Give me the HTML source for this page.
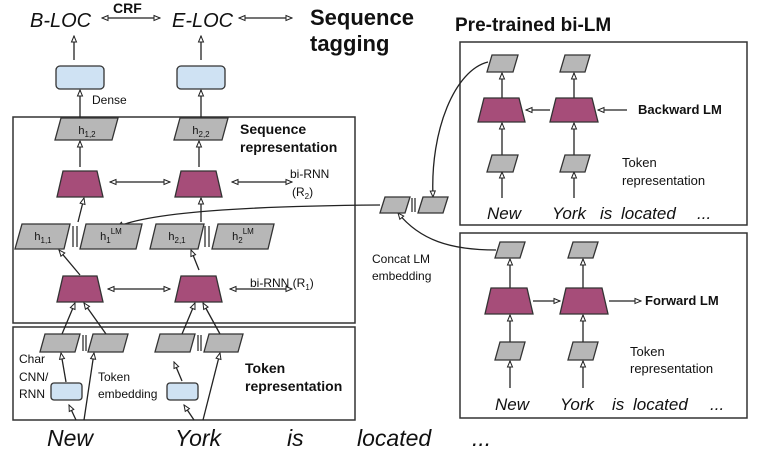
<!DOCTYPE html>
<html><head><meta charset="utf-8"><style>
html,body{margin:0;padding:0;background:#fff}
svg{display:block}
text{font-family:"Liberation Sans",Arial,sans-serif;fill:#111}
.b{font-weight:bold}
.i{font-style:italic}
</style></head><body>
<svg width="758" height="452" viewBox="0 0 758 452" xmlns="http://www.w3.org/2000/svg">
<defs>
<marker id="a" markerWidth="8" markerHeight="8" refX="7" refY="4" orient="auto" markerUnits="userSpaceOnUse">
<path d="M1,1.5 L7,4 L1,6.5 Z" fill="#fff" stroke="#222" stroke-width="1"/>
</marker>
<marker id="s" markerWidth="8" markerHeight="8" refX="1" refY="4" orient="auto" markerUnits="userSpaceOnUse">
<path d="M7,1.5 L1,4 L7,6.5 Z" fill="#fff" stroke="#222" stroke-width="1"/>
</marker>
</defs>
<g stroke="#222" stroke-width="1.3" fill="none">
<!-- boxes -->
<rect x="13" y="117" width="342" height="206" stroke="#333" stroke-width="1.5"/>
<rect x="13" y="327" width="342" height="93" stroke="#333" stroke-width="1.5"/>
<rect x="460" y="42" width="287" height="183" stroke="#333" stroke-width="1.5"/>
<rect x="460" y="233" width="287" height="185" stroke="#333" stroke-width="1.5"/>

<!-- top arrows -->
<line x1="102" y1="18" x2="160" y2="18" marker-start="url(#s)" marker-end="url(#a)"/>
<line x1="239" y1="18" x2="292" y2="18" marker-start="url(#s)" marker-end="url(#a)"/>
<line x1="74" y1="60" x2="74" y2="36" marker-end="url(#a)"/>
<line x1="201" y1="60" x2="201" y2="36" marker-end="url(#a)"/>
<line x1="80" y1="118" x2="80" y2="90" marker-end="url(#a)"/>
<line x1="201" y1="118" x2="201" y2="90" marker-end="url(#a)"/>
<line x1="80" y1="167" x2="80" y2="141" marker-end="url(#a)"/>
<line x1="199" y1="167" x2="199" y2="141" marker-end="url(#a)"/>
<line x1="110" y1="182" x2="170" y2="182" marker-start="url(#s)" marker-end="url(#a)"/>
<line x1="232" y1="182" x2="292" y2="182" marker-start="url(#s)" marker-end="url(#a)"/>
<line x1="78" y1="222" x2="84" y2="198" marker-end="url(#a)"/>
<line x1="201" y1="222" x2="201" y2="198" marker-end="url(#a)"/>
<line x1="80" y1="275" x2="59" y2="250" marker-end="url(#a)"/>
<line x1="199" y1="270" x2="191" y2="250" marker-end="url(#a)"/>
<line x1="108" y1="289" x2="170" y2="289" marker-start="url(#s)" marker-end="url(#a)"/>
<line x1="230" y1="289" x2="292" y2="289" marker-start="url(#s)" marker-end="url(#a)"/>
<line x1="62" y1="334" x2="75" y2="303" marker-end="url(#a)"/>
<line x1="106" y1="334" x2="84" y2="303" marker-end="url(#a)"/>
<line x1="182" y1="334" x2="195" y2="303" marker-end="url(#a)"/>
<line x1="220" y1="334" x2="203" y2="303" marker-end="url(#a)"/>
<line x1="66" y1="382" x2="61" y2="353" marker-end="url(#a)"/>
<line x1="84" y1="420" x2="94" y2="353" marker-end="url(#a)"/>
<line x1="182" y1="381" x2="174" y2="362" marker-end="url(#a)"/>
<line x1="203" y1="420" x2="220" y2="353" marker-end="url(#a)"/>
<line x1="76" y1="420" x2="69" y2="405" marker-end="url(#a)"/>
<line x1="194" y1="420" x2="184" y2="405" marker-end="url(#a)"/>
<!-- concat curves -->
<path d="M380,205 C250,206 150,212 117,227" marker-end="url(#a)"/>
<path d="M488,62 C455,70 430,130 433,197" marker-end="url(#a)"/>
<path d="M496,250 C450,250 420,240 398,213" marker-end="url(#a)"/>
<!-- right backward -->
<line x1="502" y1="98" x2="502" y2="73" marker-end="url(#a)"/>
<line x1="574" y1="98" x2="574" y2="73" marker-end="url(#a)"/>
<line x1="502" y1="155" x2="502" y2="123" marker-end="url(#a)"/>
<line x1="574" y1="155" x2="574" y2="123" marker-end="url(#a)"/>
<line x1="502" y1="198" x2="502" y2="172" marker-end="url(#a)"/>
<line x1="574" y1="198" x2="574" y2="172" marker-end="url(#a)"/>
<line x1="550" y1="110" x2="526" y2="110" marker-end="url(#a)"/>
<line x1="627" y1="110" x2="598" y2="110" marker-end="url(#a)"/>
<!-- right forward -->
<line x1="510" y1="288" x2="510" y2="259" marker-end="url(#a)"/>
<line x1="583" y1="288" x2="583" y2="259" marker-end="url(#a)"/>
<line x1="510" y1="342" x2="510" y2="315" marker-end="url(#a)"/>
<line x1="583" y1="342" x2="583" y2="315" marker-end="url(#a)"/>
<line x1="510" y1="388" x2="510" y2="361" marker-end="url(#a)"/>
<line x1="583" y1="388" x2="583" y2="361" marker-end="url(#a)"/>
<line x1="533" y1="301" x2="560" y2="301" marker-end="url(#a)"/>
<line x1="609" y1="301" x2="641" y2="301" marker-end="url(#a)"/>
</g>

<!-- dense boxes -->
<g fill="#cfe2f3" stroke="#333" stroke-width="1.3">
<rect x="56" y="66" width="48" height="23" rx="4"/>
<rect x="177" y="66" width="48" height="23" rx="4"/>
<rect x="51" y="383" width="31" height="17" rx="3"/>
<rect x="167" y="383" width="31" height="17" rx="3"/>
</g>
<!-- trapezoids -->
<g fill="#a64d79" stroke="#333" stroke-width="1.3">
<polygon points="63,171 97,171 103,197 57,197"/>
<polygon points="181,171 216,171 222,197 175,197"/>
<polygon points="63,276 97,276 103,302 57,302"/>
<polygon points="181,276 216,276 222,302 175,302"/>
<polygon points="484,98 519,98 525,122 478,122"/>
<polygon points="556,98 592,98 598,122 550,122"/>
<polygon points="491,288 527,288 533,314 485,314"/>
<polygon points="566,288 602,288 608,314 560,314"/>
</g>
<!-- parallelograms -->
<g fill="#b7b7b7" stroke="#333" stroke-width="1.3">
<polygon points="61,118 118,118 112,140 55,140"/>
<polygon points="180,118 228,118 222,140 174,140"/>
<polygon points="22,224 70,224 64,249 15,249"/>
<polygon points="86,224 142,224 136,249 80,249"/>
<polygon points="156,224 204,224 198,249 150,249"/>
<polygon points="218,224 274,224 268,249 212,249"/>
<polygon points="45,334 80,334 75,352 40,352"/>
<polygon points="93,334 128,334 123,352 88,352"/>
<polygon points="160,334 195,334 190,352 155,352"/>
<polygon points="209,334 243,334 238,352 204,352"/>
<polygon points="385,197 410,197 405,213 380,213"/>
<polygon points="423,197 448,197 443,213 418,213"/>
<polygon points="492,55 518,55 513,72 487,72"/>
<polygon points="565,55 590,55 585,72 560,72"/>
<polygon points="492,155 518,155 513,172 487,172"/>
<polygon points="565,155 590,155 585,172 560,172"/>
<polygon points="500,242 525,242 520,258 495,258"/>
<polygon points="573,242 598,242 593,258 568,258"/>
<polygon points="500,342 525,342 520,360 495,360"/>
<polygon points="573,342 598,342 593,360 568,360"/>
</g>
<!-- || marks -->
<g stroke="#222" stroke-width="1.2">
<line x1="73" y1="226" x2="73" y2="247"/><line x1="77" y1="226" x2="77" y2="247"/>
<line x1="205" y1="226" x2="205" y2="247"/><line x1="209" y1="226" x2="209" y2="247"/>
<line x1="83" y1="335" x2="83" y2="351"/><line x1="86" y1="335" x2="86" y2="351"/>
<line x1="198" y1="335" x2="198" y2="351"/><line x1="201" y1="335" x2="201" y2="351"/>
<line x1="412" y1="198" x2="412" y2="212"/><line x1="415" y1="198" x2="415" y2="212"/>
</g>

<!-- text -->
<text x="30" y="27" font-size="20" class="i">B-LOC</text>
<text x="113" y="13" font-size="14" class="b">CRF</text>
<text x="172" y="27" font-size="20" class="i">E-LOC</text>
<text x="310" y="25" font-size="22" class="b">Sequence</text>
<text x="310" y="51" font-size="22" class="b">tagging</text>
<text x="455" y="31" font-size="19" class="b">Pre-trained bi-LM</text>
<text x="92" y="104" font-size="12">Dense</text>
<g font-size="11" text-anchor="middle">
<text x="87" y="134">h<tspan font-size="8" dy="3">1,2</tspan></text>
<text x="201" y="134">h<tspan font-size="8" dy="3">2,2</tspan></text>
<text x="43" y="240">h<tspan font-size="8" dy="3">1,1</tspan></text>
<text x="111" y="240">h<tspan font-size="8" dy="3">1</tspan><tspan font-size="8" dy="-9">LM</tspan></text>
<text x="177" y="240">h<tspan font-size="8" dy="3">2,1</tspan></text>
<text x="243" y="240">h<tspan font-size="8" dy="3">2</tspan><tspan font-size="8" dy="-9">LM</tspan></text>
</g>
<text x="240" y="134" font-size="14" class="b">Sequence</text>
<text x="240" y="152" font-size="14" class="b">representation</text>
<text x="290" y="178" font-size="12">bi-RNN</text>
<text x="292" y="196" font-size="12">(R<tspan font-size="8" dy="3">2</tspan><tspan dy="-3">)</tspan></text>
<text x="250" y="287" font-size="12">bi-RNN (R<tspan font-size="8" dy="3">1</tspan><tspan dy="-3">)</tspan></text>
<text x="19" y="363" font-size="12">Char</text>
<text x="19" y="381" font-size="12">CNN/</text>
<text x="19" y="398" font-size="12">RNN</text>
<text x="98" y="381" font-size="12">Token</text>
<text x="98" y="398" font-size="12">embedding</text>
<text x="245" y="373" font-size="14" class="b">Token</text>
<text x="245" y="391" font-size="14" class="b">representation</text>
<text x="47" y="446" font-size="23" class="i">New</text>
<text x="175" y="446" font-size="23" class="i">York</text>
<text x="287" y="446" font-size="23" class="i">is</text>
<text x="357" y="446" font-size="23" class="i">located</text>
<text x="472" y="446" font-size="23" class="i">...</text>
<text x="372" y="263" font-size="12">Concat LM</text>
<text x="372" y="280" font-size="12">embedding</text>
<text x="638" y="114" font-size="13" class="b">Backward LM</text>
<text x="622" y="167" font-size="13">Token</text>
<text x="622" y="185" font-size="13">representation</text>
<text x="645" y="305" font-size="13" class="b">Forward LM</text>
<text x="630" y="356" font-size="13">Token</text>
<text x="630" y="373" font-size="13">representation</text>
<g font-size="17" class="i">
<text x="487" y="219">New</text><text x="552" y="219">York</text><text x="600" y="219">is</text><text x="621" y="219">located</text><text x="697" y="219">...</text>
<text x="495" y="410">New</text><text x="560" y="410">York</text><text x="612" y="410">is</text><text x="633" y="410">located</text><text x="710" y="410">...</text>
</g>
</svg>
</body></html>
